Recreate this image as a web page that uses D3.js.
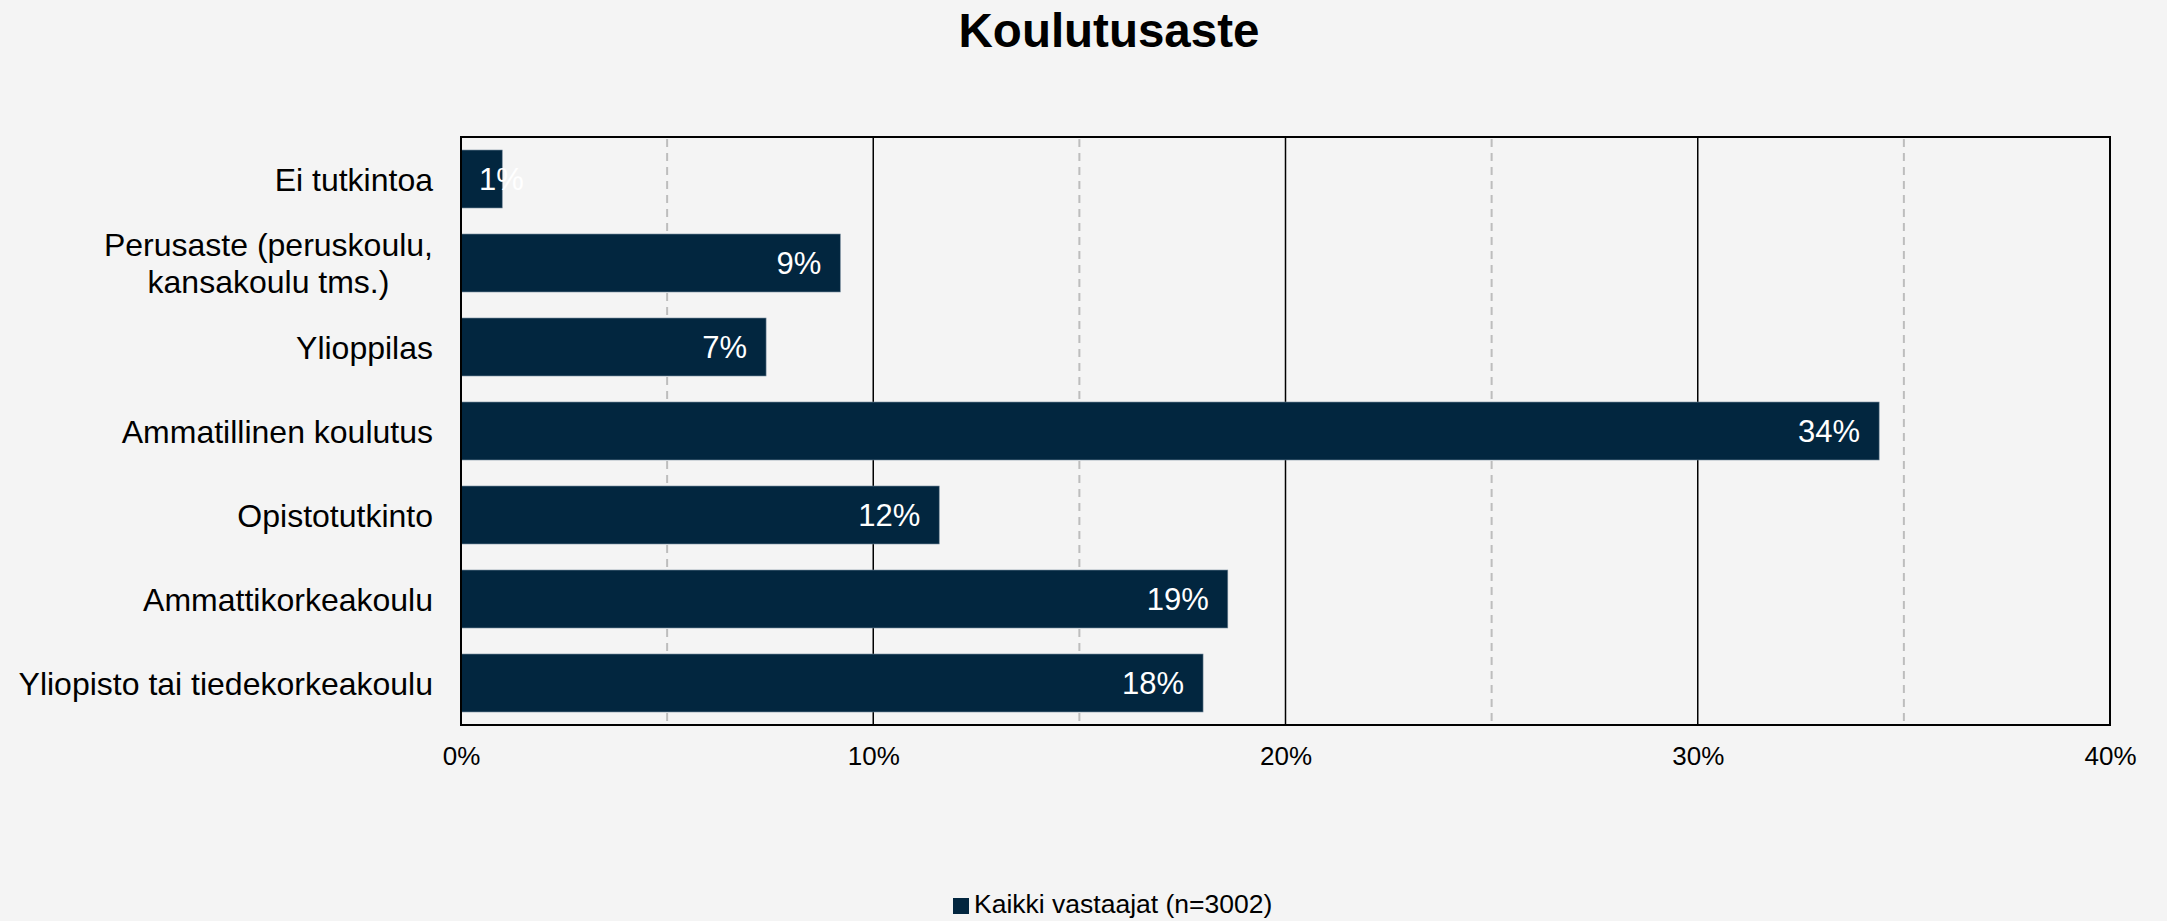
<!DOCTYPE html>
<html>
<head>
<meta charset="utf-8">
<script src="https://cdn.jsdelivr.net/npm/d3@7"></script>
<style>
  html, body { margin: 0; padding: 0; background: #f4f4f4; }
  svg { display: block; font-family: "Liberation Sans", Arial, sans-serif; }
</style>
</head>
<body>
<div id="chart"></div>
<script>
// data
var categories = [
  'Ei tutkintoa',
  'Perusaste (peruskoulu,\nkansakoulu tms.)',
  'Ylioppilas',
  'Ammatillinen koulutus',
  'Opistotutkinto',
  'Ammattikorkeakoulu',
  'Yliopisto tai tiedekorkeakoulu'
];
var values = [1.0, 9.2, 7.4, 34.4, 11.6, 18.6, 18.0];
var majorTicks = [0, 10, 20, 30, 40];
var minorTicks = [5, 15, 25, 35];
var seriesName = 'Kaikki vastaajat (n=3002)';
var title = 'Koulutusaste';

var width = 2167, height = 921;
var margin = { top: 137, right: 57, bottom: 196, left: 461 };
var barColor = '#02263f';

var svg = d3.select('#chart').append('svg')
  .attr('width', width)
  .attr('height', height);

svg.append('rect').attr('width', width).attr('height', height).attr('fill', '#f4f4f4');

var x = d3.scaleLinear()
  .domain([0, 40])
  .range([margin.left, width - margin.right]);

var y = d3.scaleBand()
  .domain(categories)
  .range([margin.top, height - margin.bottom])
  .paddingInner(0.31)
  .paddingOuter(0.155);

// title
svg.append('text')
  .attr('x', 1109)
  .attr('y', 47)
  .attr('text-anchor', 'middle')
  .attr('font-size', 47.5)
  .attr('font-weight', 'bold')
  .attr('fill', '#000')
  .text(title);

// gridlines
svg.append('g').selectAll('line.minor')
  .data(minorTicks).enter().append('line')
  .attr('class', 'minor')
  .attr('x1', function(d) { return x(d); })
  .attr('x2', function(d) { return x(d); })
  .attr('y1', margin.top + 2)
  .attr('y2', height - margin.bottom - 4)
  .attr('stroke', '#bdbdbd')
  .attr('stroke-width', 2)
  .attr('stroke-dasharray', '8,6');

svg.append('g').selectAll('line.major')
  .data(majorTicks.slice(1, -1)).enter().append('line')
  .attr('class', 'major')
  .attr('x1', function(d) { return x(d); })
  .attr('x2', function(d) { return x(d); })
  .attr('y1', margin.top)
  .attr('y2', height - margin.bottom)
  .attr('stroke', '#000')
  .attr('stroke-width', 1.5);

// bars
svg.append('g').selectAll('rect.bar')
  .data(values).enter().append('rect')
  .attr('class', 'bar')
  .attr('x', x(0))
  .attr('y', function(d, i) { return y(categories[i]); })
  .attr('width', function(d) { return x(d) - x(0); })
  .attr('height', y.bandwidth())
  .attr('fill', barColor)
  .attr('stroke', '#6f8496')
  .attr('stroke-width', 0.6);

// value labels: inside end, or from the base when the bar is too short
var vals = svg.append('g').selectAll('text.val')
  .data(values).enter().append('text')
  .attr('class', 'val')
  .attr('y', function(d, i) { return y(categories[i]) + y.bandwidth() / 2; })
  .attr('dy', '0.36em')
  .attr('font-size', 31)
  .attr('fill', '#fff')
  .text(function(d) { return Math.round(d) + '%'; });

vals.each(function(d) {
  var w = this.getComputedTextLength();
  var sel = d3.select(this);
  if (w + 38 > x(d) - x(0)) {
    sel.attr('text-anchor', 'start').attr('x', x(0) + 18);
  } else {
    sel.attr('text-anchor', 'end').attr('x', x(d) - 19);
  }
});

// frame
svg.append('rect')
  .attr('x', margin.left)
  .attr('y', margin.top)
  .attr('width', width - margin.left - margin.right)
  .attr('height', height - margin.top - margin.bottom)
  .attr('fill', 'none')
  .attr('stroke', '#000')
  .attr('stroke-width', 2);

// x axis labels
var xAxis = d3.axisBottom(x)
  .tickValues(majorTicks)
  .tickSize(0)
  .tickPadding(22)
  .tickFormat(function(d) { return d + '%'; });

var gx = svg.append('g')
  .attr('transform', 'translate(0,' + (height - margin.bottom) + ')')
  .call(xAxis);
gx.select('.domain').remove();
gx.selectAll('text')
  .attr('font-size', 26)
  .attr('font-family', '"Liberation Sans", Arial, sans-serif')
  .attr('fill', '#000');

// category labels (multi-line labels are centred on each other, block right-aligned)
var labelRight = margin.left - 28;
var lineHeight = 37;
var catGroup = svg.append('g');
categories.forEach(function(c) {
  var lines = c.split('\n');
  var cy = y(c) + y.bandwidth() / 2;
  var t = catGroup.append('text')
    .attr('font-size', 32)
    .attr('fill', '#000');
  var spans = lines.map(function(l, k) {
    return t.append('tspan')
      .attr('y', cy + (k - (lines.length - 1) / 2) * lineHeight)
      .attr('dy', '0.36em')
      .text(l);
  });
  if (lines.length === 1) {
    t.attr('text-anchor', 'end');
    spans[0].attr('x', labelRight);
  } else {
    var maxW = d3.max(spans, function(s) { return s.node().getComputedTextLength(); });
    t.attr('text-anchor', 'middle');
    spans.forEach(function(s) { s.attr('x', labelRight - maxW / 2); });
  }
});

// legend
var legend = svg.append('g').attr('transform', 'translate(953,898)');
legend.append('rect')
  .attr('width', 16).attr('height', 16)
  .attr('fill', barColor);
legend.append('text')
  .attr('x', 21)
  .attr('y', 15)
  .attr('font-size', 26.5)
  .attr('fill', '#000')
  .text(seriesName);
</script>
</body>
</html>
